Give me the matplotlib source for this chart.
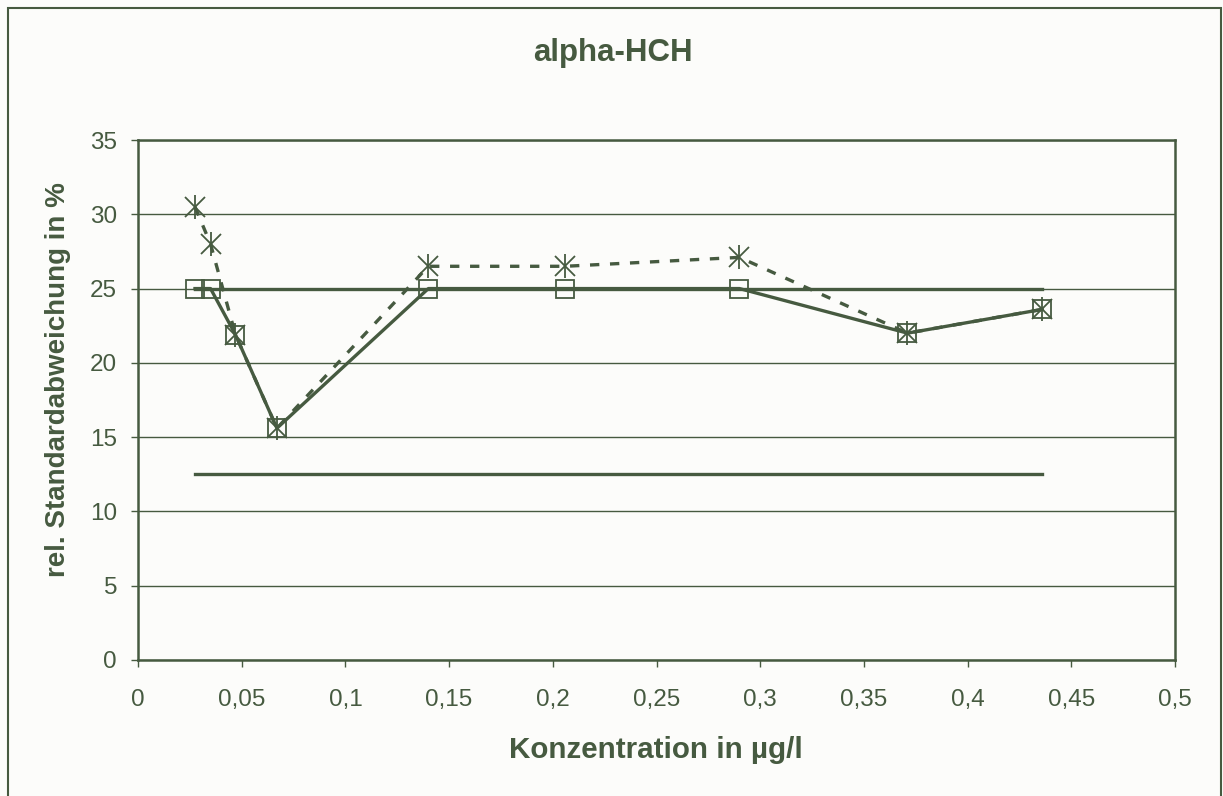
import matplotlib.pyplot as plt
from matplotlib.patches import Rectangle
from matplotlib.ticker import FuncFormatter

GREEN = "#465a40"
BG = "#fcfcfa"

# measured series
conc = [0.0275, 0.035, 0.047, 0.067, 0.140, 0.206, 0.290, 0.371, 0.436]
rsd_a = [25.0, 25.0, 21.9, 15.6, 25.0, 25.0, 25.0, 22.0, 23.6]   # solid, squares
rsd_b = [30.5, 28.0, 21.9, 15.6, 26.5, 26.5, 27.1, 22.0, 23.6]   # dashed, asterisks

# limit lines
limit_x = [0.0275, 0.436]
upper_limit = [25.0, 25.0]
lower_limit = [12.5, 12.5]

plt.rcParams["font.family"] = ["Liberation Sans", "DejaVu Sans"]

fig = plt.figure(figsize=(12.23, 7.96), dpi=100, facecolor=BG)
ax = fig.add_axes([0.1128, 0.1709, 0.848, 0.6532], facecolor=BG)

# outer chart border
fig.patches.append(Rectangle((8 / 1223, -0.05), 1213 / 1223, 1.05 - 8 / 796,
                             transform=fig.transFigure, fill=False,
                             edgecolor=GREEN, linewidth=1.5))

# limit lines
ax.plot(limit_x, upper_limit, color=GREEN, linewidth=2.4, zorder=3)
ax.plot(limit_x, lower_limit, color=GREEN, linewidth=2.4, zorder=3)

# dashed series with excel-like asterisk markers (x plus vertical bar)
ax.plot(conc, rsd_b, color=GREEN, linewidth=2.4, linestyle=(0, (2.8, 3.2)), zorder=4)
ax.plot(conc, rsd_b, linestyle="none", marker="x", markersize=14,
        markeredgewidth=1.3, color=GREEN, zorder=5)
ax.plot(conc, rsd_b, linestyle="none", marker="|", markersize=17,
        markeredgewidth=1.3, color=GREEN, zorder=5)

# solid series with hollow squares
ax.plot(conc, rsd_a, color=GREEN, linewidth=2.4, marker="s", markersize=13.5,
        markerfacecolor="none", markeredgecolor=GREEN, markeredgewidth=1.3, zorder=4)

ax.set_xlim(0, 0.5)
ax.set_ylim(0, 35)
ax.set_xticks([i * 0.05 for i in range(11)])
ax.set_yticks(range(0, 36, 5))
ax.xaxis.set_major_formatter(FuncFormatter(lambda v, p: f"{v:g}".replace(".", ",")))
ax.yaxis.grid(True, color=GREEN, linewidth=1.0)
ax.set_axisbelow(True)

for s in ax.spines.values():
    s.set_color(GREEN)
    s.set_linewidth(1.8)

ax.tick_params(axis="both", colors=GREEN, labelsize=17.5, length=5, width=1, direction="out")
ax.tick_params(axis="x", pad=16)
ax.tick_params(axis="y", pad=10)

# title and axis labels placed like the excel layout
fig.text(613 / 1223, 1 - 53 / 796, "alpha-HCH", fontsize=22.5, fontweight="bold",
         color=GREEN, ha="center", va="center")
fig.text(656 / 1223, 1 - 750 / 796, "Konzentration in µg/l", fontsize=21.3,
         fontweight="bold", color=GREEN, ha="center", va="center")
fig.text(58 / 1223, 1 - 380 / 796, "rel. Standardabweichung in %", fontsize=20,
         fontweight="bold", color=GREEN, ha="center", va="center", rotation=90)

fig.savefig("out.png", dpi=100, facecolor=BG)
